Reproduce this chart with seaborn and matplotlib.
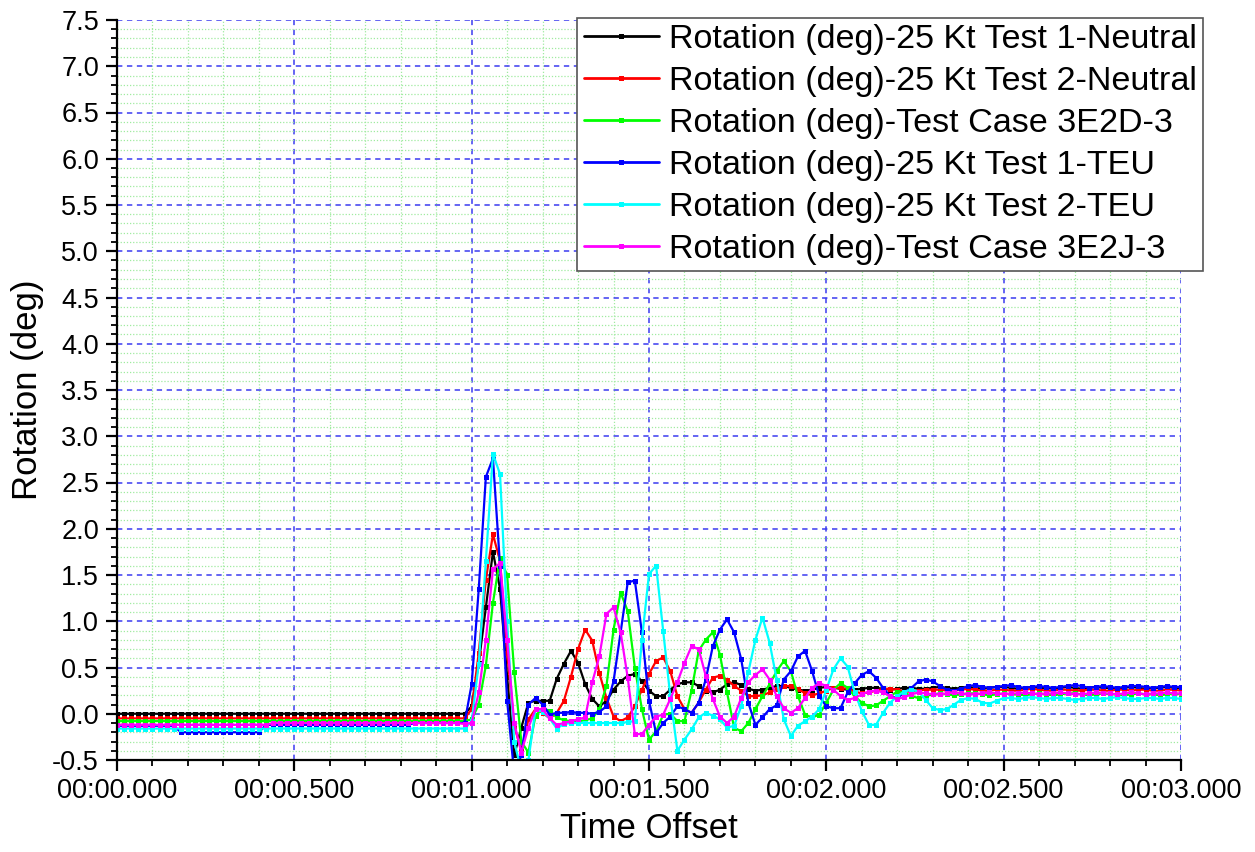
import numpy as np
import pandas as pd
import matplotlib
matplotlib.use("Agg")
import matplotlib.pyplot as plt
import seaborn as sns
from matplotlib.ticker import MultipleLocator, FixedLocator, FixedFormatter
from matplotlib.lines import Line2D

# ---------------- data ----------------
sample_step = 0.02  # seconds between samples (50 Hz)

series_names = [
    "Rotation (deg)-25 Kt Test 1-Neutral",
    "Rotation (deg)-25 Kt Test 2-Neutral",
    "Rotation (deg)-Test Case 3E2D-3",
    "Rotation (deg)-25 Kt Test 1-TEU",
    "Rotation (deg)-25 Kt Test 2-TEU",
    "Rotation (deg)-Test Case 3E2J-3",
]
series_colors = ["#000000", "#FF0000", "#00FF00", "#0000FF", "#00FFFF", "#FF00FF"]

x_tick_values = [0.0, 0.5, 1.0, 1.5, 2.0, 2.5, 3.0]
x_tick_labels = ["00:00.000", "00:00.500", "00:01.000", "00:01.500",
                 "00:02.000", "00:02.500", "00:03.000"]
y_tick_values = [-0.5, 0.0, 0.5, 1.0, 1.5, 2.0, 2.5, 3.0, 3.5, 4.0, 4.5,
                 5.0, 5.5, 6.0, 6.5, 7.0, 7.5]
y_tick_labels = ["-0.5", "0.0", "0.5", "1.0", "1.5", "2.0", "2.5", "3.0", "3.5",
                 "4.0", "4.5", "5.0", "5.5", "6.0", "6.5", "7.0", "7.5"]

# samples t = 0.00, 0.02, ... 3.00
black_vals = [
    0.0, 0.0, 0.0, 0.0, 0.0, 0.0, 0.0, 0.0, 0.0, 0.0,
    0.0, 0.0, 0.0, 0.0, 0.0, 0.0, 0.0, 0.0, 0.0, 0.0,
    0.0, 0.0, 0.0, 0.0, 0.0, 0.0, 0.0, 0.0, 0.0, 0.0,
    0.0, 0.0, 0.0, 0.0, 0.0, 0.0, 0.0, 0.0, 0.0, 0.0,
    0.0, 0.0, 0.0, 0.0, 0.0, 0.0, 0.0, 0.0, 0.0,
    0.0, 0.08, 0.55, 1.15, 1.75, 1.35, 0.40, -0.45, -0.15, 0.12,
    0.14, 0.14, 0.14, 0.38, 0.54, 0.68, 0.55, 0.32, 0.16, 0.08,
    0.14, 0.26, 0.35, 0.41, 0.43, 0.35, 0.25, 0.19, 0.19, 0.26,
    0.32, 0.34, 0.34, 0.30, 0.25, 0.23, 0.26, 0.32, 0.34, 0.31,
    0.27, 0.25, 0.26, 0.28, 0.30, 0.30, 0.28, 0.26, 0.25, 0.26,
    0.28, 0.29, 0.28, 0.27, 0.26, 0.26, 0.27, 0.28, 0.28, 0.27,
    0.26, 0.27, 0.28, 0.28, 0.27, 0.27, 0.28,
    0.29, 0.28, 0.27, 0.28, 0.29, 0.28, 0.27, 0.28, 0.29, 0.29,
    0.28, 0.27, 0.28, 0.29, 0.28, 0.28, 0.27, 0.28, 0.29, 0.28,
    0.27, 0.28, 0.29, 0.28, 0.28, 0.27, 0.28, 0.29, 0.28, 0.27,
    0.28, 0.28, 0.29, 0.28, 0.28,
]

red_vals = [
    -0.05, -0.05, -0.05, -0.05, -0.05, -0.05, -0.05, -0.05, -0.05, -0.05,
    -0.05, -0.05, -0.05, -0.05, -0.05, -0.05, -0.05, -0.05, -0.05, -0.05,
    -0.05, -0.05, -0.05, -0.05, -0.05, -0.05, -0.05, -0.05, -0.05, -0.05,
    -0.05, -0.05, -0.05, -0.05, -0.05, -0.05, -0.05, -0.05, -0.05, -0.05,
    -0.05, -0.05, -0.05, -0.05, -0.05, -0.05, -0.05, -0.05, -0.05,
    -0.05, 0.05, 0.66, 1.45, 1.94, 1.65, 0.66, -0.13, -0.40, -0.06,
    0.05, 0.01, -0.05, 0.01, 0.14, 0.40, 0.70, 0.91, 0.79, 0.44,
    0.17, -0.03, -0.08, -0.04, 0.08, 0.26, 0.43, 0.57, 0.61, 0.46,
    0.19, 0.05, 0.01, 0.12, 0.26, 0.39, 0.41, 0.37, 0.30, 0.25,
    0.19, 0.19, 0.20, 0.23, 0.27, 0.30, 0.30, 0.27, 0.22, 0.20,
    0.22, 0.25, 0.28, 0.28, 0.27, 0.24, 0.22, 0.23, 0.25, 0.27,
    0.27, 0.26, 0.24, 0.24, 0.25, 0.26, 0.26,
    0.26, 0.25, 0.25, 0.26, 0.27, 0.26, 0.25, 0.25, 0.26, 0.26,
    0.25, 0.25, 0.26, 0.27, 0.26, 0.25, 0.25, 0.26, 0.26, 0.25,
    0.25, 0.26, 0.26, 0.25, 0.25, 0.26, 0.26, 0.25, 0.26, 0.26,
    0.25, 0.25, 0.26, 0.26, 0.25,
]

green_vals = [
    -0.08, -0.08, -0.08, -0.08, -0.08, -0.08, -0.08, -0.08, -0.08, -0.08,
    -0.08, -0.08, -0.08, -0.08, -0.08, -0.08, -0.08, -0.08, -0.08, -0.08,
    -0.08, -0.08, -0.08, -0.08, -0.08, -0.08, -0.08, -0.08, -0.08, -0.08,
    -0.08, -0.08, -0.08, -0.08, -0.08, -0.08, -0.08, -0.08, -0.08, -0.08,
    -0.08, -0.08, -0.08, -0.08, -0.08, -0.08, -0.08, -0.08, -0.08,
    -0.08, -0.06, 0.10, 0.52, 1.20, 1.68, 1.50, 0.45, -0.30, -0.42,
    -0.02, 0.06, 0.03, -0.04, -0.07, -0.08, -0.08, -0.07, -0.05, 0.05,
    0.30, 0.91, 1.31, 1.11, 0.50, 0.05, -0.28, -0.19, -0.01, 0.00,
    -0.08, -0.08, 0.25, 0.68, 0.80, 0.88, 0.64, 0.23, -0.15, -0.19,
    -0.10, 0.05, 0.19, 0.32, 0.46, 0.57, 0.46, 0.19, -0.01, -0.04,
    -0.01, 0.12, 0.26, 0.33, 0.28, 0.19, 0.12, 0.08, 0.09, 0.14,
    0.19, 0.24, 0.23, 0.19, 0.17, 0.19, 0.21,
    0.22, 0.21, 0.20, 0.21, 0.22, 0.22, 0.21, 0.20, 0.21, 0.22,
    0.21, 0.21, 0.20, 0.21, 0.22, 0.21, 0.20, 0.21, 0.22, 0.22,
    0.21, 0.20, 0.21, 0.22, 0.21, 0.21, 0.20, 0.21, 0.22, 0.21,
    0.21, 0.20, 0.21, 0.22, 0.21,
]

blue_vals = [
    -0.13, -0.13, -0.13, -0.13, -0.13, -0.13, -0.13, -0.13, -0.13, -0.20,
    -0.20, -0.20, -0.20, -0.20, -0.20, -0.20, -0.20, -0.20, -0.20, -0.20,
    -0.20, -0.12, -0.12, -0.12, -0.12, -0.12, -0.12, -0.12, -0.12, -0.12,
    -0.12, -0.12, -0.12, -0.12, -0.12, -0.12, -0.12, -0.12, -0.12, -0.12,
    -0.12, -0.12, -0.10, -0.10, -0.10, -0.10, -0.10, -0.10, -0.10,
    -0.10, 0.32, 1.35, 2.56, 2.76, 1.60, 0.14, -0.65, -0.45, 0.10,
    0.17, 0.10, -0.01, 0.01, 0.01, 0.02, 0.01, 0.01, 0.00, 0.02,
    0.08, 0.35, 0.88, 1.42, 1.44, 0.88, 0.14, -0.21, -0.10, -0.03,
    0.08, 0.05, 0.01, 0.12, 0.37, 0.73, 0.91, 1.02, 0.88, 0.59,
    0.12, -0.12, -0.04, 0.05, 0.09, 0.37, 0.46, 0.62, 0.68, 0.46,
    0.19, 0.08, 0.06, 0.06, 0.23, 0.33, 0.42, 0.46, 0.39, 0.28,
    0.19, 0.17, 0.23, 0.28, 0.35, 0.37, 0.35,
    0.30, 0.26, 0.25, 0.27, 0.30, 0.31, 0.29, 0.28, 0.29, 0.30,
    0.31, 0.29, 0.28, 0.29, 0.30, 0.29, 0.28, 0.29, 0.30, 0.31,
    0.30, 0.28, 0.29, 0.30, 0.29, 0.28, 0.29, 0.30, 0.30, 0.29,
    0.28, 0.29, 0.30, 0.29, 0.29,
]

cyan_vals = [
    -0.16, -0.16, -0.16, -0.16, -0.16, -0.16, -0.16, -0.16, -0.16, -0.16,
    -0.16, -0.16, -0.16, -0.16, -0.16, -0.16, -0.16, -0.16, -0.16, -0.16,
    -0.16, -0.16, -0.16, -0.16, -0.16, -0.16, -0.16, -0.16, -0.16, -0.16,
    -0.16, -0.16, -0.16, -0.16, -0.16, -0.16, -0.16, -0.16, -0.16, -0.16,
    -0.16, -0.16, -0.16, -0.16, -0.16, -0.16, -0.16, -0.16, -0.16,
    -0.16, -0.08, 0.54, 1.65, 2.81, 2.59, 1.00, -0.30, -0.62, -0.50,
    0.05, 0.02, -0.05, -0.16, -0.11, -0.10, -0.10, -0.10, -0.10, -0.10,
    -0.10, -0.10, -0.10, -0.09, -0.08, 0.80, 1.51, 1.60, 0.90, 0.19,
    -0.40, -0.28, -0.17, -0.04, 0.01, -0.02, -0.06, -0.15, -0.13, 0.08,
    0.45, 0.80, 1.04, 0.77, 0.37, -0.06, -0.24, -0.13, -0.08, -0.03,
    0.05, 0.26, 0.48, 0.60, 0.51, 0.23, 0.03, -0.12, -0.12, 0.01,
    0.12, 0.19, 0.24, 0.26, 0.24, 0.15, 0.06,
    0.04, 0.05, 0.10, 0.15, 0.17, 0.16, 0.12, 0.11, 0.14, 0.17,
    0.17, 0.16, 0.17, 0.18, 0.17, 0.16, 0.17, 0.17, 0.16, 0.15,
    0.16, 0.17, 0.17, 0.16, 0.17, 0.18, 0.17, 0.16, 0.16, 0.17,
    0.17, 0.16, 0.17, 0.17, 0.16,
]

magenta_vals = [
    -0.12, -0.12, -0.12, -0.12, -0.12, -0.12, -0.12, -0.12, -0.12, -0.12,
    -0.12, -0.12, -0.12, -0.12, -0.12, -0.12, -0.12, -0.12, -0.12, -0.12,
    -0.12, -0.12, -0.10, -0.10, -0.10, -0.10, -0.10, -0.10, -0.10, -0.10,
    -0.10, -0.10, -0.10, -0.10, -0.10, -0.10, -0.10, -0.10, -0.10, -0.10,
    -0.10, -0.10, -0.10, -0.10, -0.10, -0.10, -0.10, -0.10, -0.10,
    -0.11, -0.10, 0.23, 0.80, 1.56, 1.63, 0.80, -0.10, -0.42, -0.15,
    0.05, 0.05, -0.05, -0.12, -0.10, -0.08, -0.06, -0.04, 0.34, 0.62,
    1.08, 1.15, 0.88, 0.39, -0.22, -0.22, -0.12, -0.03, -0.01, 0.16,
    0.34, 0.55, 0.73, 0.70, 0.41, 0.16, -0.03, -0.10, -0.03, 0.17,
    0.34, 0.42, 0.48, 0.37, 0.19, 0.06, 0.01, 0.06, 0.17, 0.28,
    0.33, 0.30, 0.26, 0.19, 0.15, 0.17, 0.21, 0.24, 0.25, 0.23,
    0.19, 0.16, 0.18, 0.21, 0.23, 0.22, 0.21,
    0.21, 0.22, 0.23, 0.22, 0.21, 0.21, 0.22, 0.23, 0.22, 0.21,
    0.22, 0.22, 0.23, 0.22, 0.21, 0.22, 0.22, 0.23, 0.22, 0.21,
    0.21, 0.22, 0.23, 0.22, 0.22, 0.21, 0.22, 0.23, 0.22, 0.21,
    0.22, 0.22, 0.23, 0.22, 0.22,
]

all_vals = [black_vals, red_vals, green_vals, blue_vals, cyan_vals, magenta_vals]

frames = []
for name, vals in zip(series_names, all_vals):
    t = np.arange(len(vals)) * sample_step
    frames.append(pd.DataFrame({"Time Offset": t, "Rotation (deg)": vals, "series": name}))
df = pd.concat(frames, ignore_index=True)

# ---------------- plot ----------------
sns.set_style("white")
plt.rcParams["font.family"] = ["Liberation Sans", "DejaVu Sans"]
plt.rcParams["text.color"] = "black"
plt.rcParams["axes.labelcolor"] = "black"

W, H = 1255, 852
fig = plt.figure(figsize=(W / 100, H / 100), dpi=100)
ax = fig.add_axes([117 / W, 1 - 760 / H, (1181 - 117) / W, (760 - 20) / H])

sns.lineplot(data=df, x="Time Offset", y="Rotation (deg)", hue="series",
             hue_order=series_names, palette=series_colors, marker="s",
             markersize=3.6, markeredgewidth=0, linewidth=1.6,
             estimator=None, sort=False, legend=False, ax=ax)

ax.set_xlim(0, 3.0)
ax.set_ylim(-0.5, 7.5)
ax.xaxis.set_major_locator(FixedLocator(x_tick_values))
ax.xaxis.set_major_formatter(FixedFormatter(x_tick_labels))
ax.yaxis.set_major_locator(FixedLocator(y_tick_values))
ax.yaxis.set_major_formatter(FixedFormatter(y_tick_labels))
ax.xaxis.set_minor_locator(MultipleLocator(0.1))
ax.yaxis.set_minor_locator(MultipleLocator(0.1))

ax.grid(which="minor", color="#A0EBA0", linestyle=(0, (1, 1.5)), linewidth=0.9)
ax.grid(which="major", color="#3A3AF0", linestyle=(0, (3.5, 3)), linewidth=1.1)
ax.set_axisbelow(True)

for s in ["top", "right"]:
    ax.spines[s].set_visible(False)
for s in ["left", "bottom"]:
    ax.spines[s].set_color("black")
    ax.spines[s].set_linewidth(1.6)

ax.tick_params(which="major", direction="out", length=8, width=1.6,
               labelsize=19.5, bottom=True, left=True, colors="black", pad=5)
ax.tick_params(which="minor", direction="out", length=4.5, width=1.3,
               bottom=True, left=True, colors="black")

ax.set_xlabel("Time Offset", fontsize=25, labelpad=6, color="black")
ax.set_ylabel("Rotation (deg)", fontsize=25, labelpad=6, color="black")

handles = [Line2D([0], [0], color=c, lw=2.0, marker="s", markersize=3.6,
                  markeredgewidth=0) for c in series_colors]
leg = ax.legend(handles, series_names, loc="upper right",
                bbox_to_anchor=(1203 / W, 1 - 18 / H), bbox_transform=fig.transFigure,
                fontsize=24.6, frameon=True, fancybox=False, framealpha=1,
                edgecolor="#555555", borderpad=0.18, handlelength=2.2,
                handletextpad=0.3, labelspacing=0.32, borderaxespad=0,
                labelcolor="black")
leg.get_frame().set_linewidth(1.2)

fig.savefig("out.png", dpi=100)
